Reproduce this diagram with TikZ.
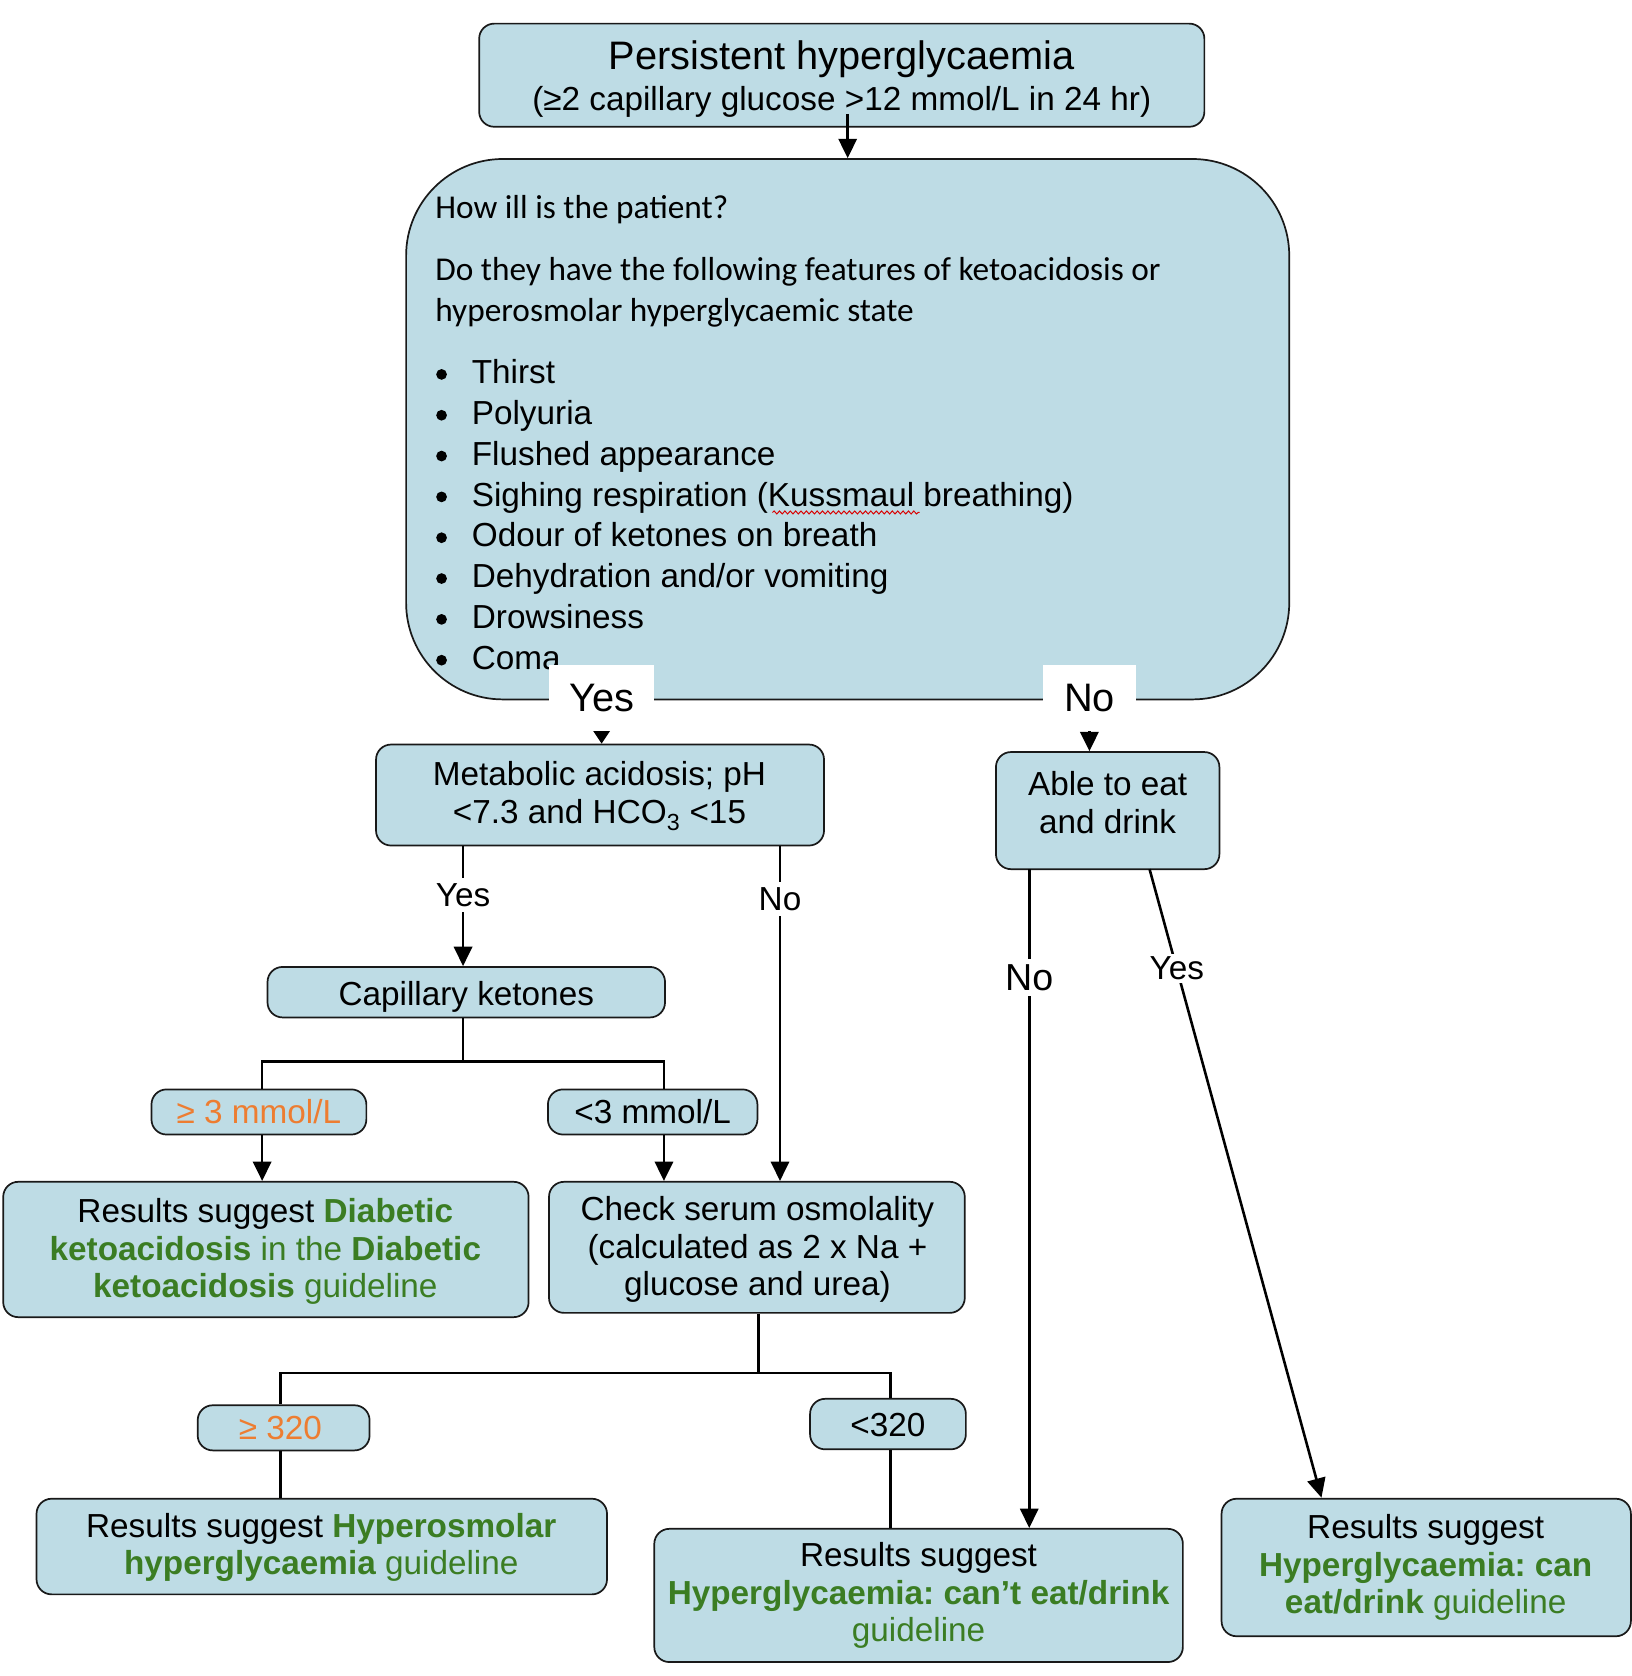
\documentclass[tikz,border=0pt]{standalone}
\usepackage{fontspec}
\setmainfont{Liberation Sans}
\newfontfamily\carlito{Carlito}
\usetikzlibrary{arrows.meta,decorations.pathmorphing}
\definecolor{boxfill}{HTML}{BEDCE5}
\definecolor{dgreen}{HTML}{3B7D23}
\definecolor{orng}{HTML}{ED7D31}
\newcommand\grb[1]{{\bfseries\color{dgreen}#1}}
\newcommand\grn[1]{{\color{dgreen}#1}}
\frenchspacing
\begin{document}
\begin{tikzpicture}[x=1pt,y=-1pt,
 box/.style={draw=black!90, line width=1.6pt, fill=boxfill, rounded corners=14pt, inner sep=0pt},
 txt/.style={align=center, font=\fontsize{31}{35}\selectfont, inner sep=0pt},
 lst/.style={font=\fontsize{31}{38}\selectfont, inner sep=0pt},
 dot/.style={circle, fill=black, inner sep=0pt, minimum size=10pt},
 conn/.style={line width=2.4pt},
 arr/.style={conn, -{Triangle[length=18pt,width=17pt]}},
 lbl/.style={fill=white, inner sep=5pt, font=\fontsize{31}{35}\selectfont},
 biglbl/.style={fill=white, inner sep=0pt, minimum height=61pt, font=\fontsize{37}{40}\selectfont}
]
\useasboundingbox (0,0) rectangle (1519,1560);

% boxes
\node[box, minimum width=675pt, minimum height=96pt] (top) at (783.5,70) {};
\node[txt] (toptxt) at (783.5,73.5) {{\fontsize{37}{40}\selectfont Persistent hyperglycaemia}\\[3pt](≥2 capillary glucose >12 mmol/L in 24 hr)};

\node[box, rounded corners=90pt, minimum width=822pt, minimum height=503pt] (big) at (789,399.5) {};
\node[anchor=base west, lst, font=\carlito\fontsize{31}{38}\selectfont] (q1) at (405,203) {How ill is the patient?};
\node[anchor=base west, lst, font=\carlito\fontsize{31}{38}\selectfont] (q2) at (405,261) {Do they have the following features of ketoacidosis or};
\node[anchor=base west, lst, font=\carlito\fontsize{31}{38}\selectfont] (q3) at (405,299) {hyperosmolar hyperglycaemic state};
\foreach \t [count=\i] in {Thirst, Polyuria, Flushed appearance, {Sighing respiration (Kussmaul breathing)}, Odour of ketones on breath, Dehydration and/or vomiting, Drowsiness, Coma}{
  \node[anchor=base west, lst] (b\i) at (439,{357+38*(\i-1)}) {\t};
  \node[dot] (d\i) at (411,{348.5+38*(\i-1)}) {};
}
\draw[red!85!black, line width=0.9pt, decorate, decoration={snake, amplitude=1.4pt, segment length=5pt}] (719,477) -- (856,477);

\node[box, minimum width=417pt, minimum height=94pt] (meta) at (558.5,740) {};
\node[txt] (metatxt) at (558,741) {Metabolic acidosis; pH\\<7.3 and HCO\textsubscript{3} <15};

\node[box, minimum width=208pt, minimum height=109pt] (able) at (1031,754.5) {};
\node[txt] (abletxt) at (1031,747) {Able to eat\\and drink};

% Yes / No exits of the big box
\coordinate (yesc) at (560,649.5);
\coordinate (noc) at (1014,649.5);
\draw[conn, -{Triangle[length=14pt,width=18pt]}] (yesc) -- (yesc |- meta.north);
\draw[arr] ([yshift=-8pt]noc) -- (noc |- able.north);
\node[biglbl, minimum width=98pt] (yes1) at (yesc) {Yes};
\node[biglbl, minimum width=86pt] (no1) at (noc) {No};

\node[box, minimum width=370pt, minimum height=47pt] (capk) at (434,923.5) {};
\node[txt] (capktxt) at (434,928) {Capillary ketones};

\node[box, minimum width=200pt, minimum height=42pt] (ge3) at (241,1035) {};
\node[txt, text=orng] (ge3txt) at (241,1035) {≥ 3 mmol/L};
\node[box, minimum width=195pt, minimum height=42pt] (lt3) at (607.5,1035) {};
\node[txt] (lt3txt) at (607.5,1035) {<3 mmol/L};

\node[box, minimum width=489pt, minimum height=126pt] (dka) at (247.5,1163) {};
\node[txt] (dkatxt) at (247,1165) {Results suggest \grb{Diabetic}\\\grb{ketoacidosis} \grn{in the} \grb{Diabetic}\\\grb{ketoacidosis} \grn{guideline}};

\node[box, minimum width=387pt, minimum height=122pt] (chk) at (704.5,1161) {};
\node[txt] (chktxt) at (705,1163) {Check serum osmolality\\(calculated as 2 x Na +\\glucose and urea)};

\node[box, minimum width=160pt, minimum height=42pt] (ge320) at (264,1329) {};
\node[txt, text=orng] (ge320txt) at (261,1329) {≥ 320};
\node[box, minimum width=145pt, minimum height=47pt] (lt320) at (826.5,1325.5) {};
\node[txt] (lt320txt) at (826.5,1326) {<320};

\node[box, minimum width=531pt, minimum height=89pt] (hhs) at (299.5,1439.5) {};
\node[txt] (hhstxt) at (299,1440.5) {Results suggest \grb{Hyperosmolar}\\\grb{hyperglycaemia} \grn{guideline}};

\node[box, minimum width=492pt, minimum height=124pt] (cant) at (855,1485) {};
\node[txt] (canttxt) at (855,1485) {Results suggest\\\grb{Hyperglycaemia: can’t eat/drink}\\\grn{guideline}};

\node[box, minimum width=381pt, minimum height=128pt] (can) at (1327.5,1459) {};
\node[txt] (cantxt) at (1327,1459) {Results suggest\\\grb{Hyperglycaemia: can}\\\grb{eat/drink} \grn{guideline}};

% connectors
\coordinate (topout) at (789,106);
\draw[arr] (topout) -- (topout |- big.north);

\coordinate (myes) at (431,787);
\coordinate (mno) at (726,787);
\draw[arr] (myes) -- node[lbl, pos=0.41] (lyes2) {Yes} (myes |- capk.north);
\draw[arr] (mno) -- node[lbl, pos=0.16] (lno2) {No} (mno |- chk.north);

\coordinate (cksplit) at (431,988);
\coordinate (ckl) at (244,988);
\coordinate (ckr) at (618,988);
\draw[conn] (capk.south -| cksplit) -- (cksplit);
\draw[conn, line cap=rect] (ckl) -- (ckr);
\draw[conn] (ckl) -- (ckl |- ge3.north);
\draw[conn] (ckr) -- (ckr |- lt3.north);
\draw[arr] (ge3.south -| ckl) -- (ckl |- dka.north);
\draw[arr] (lt3.south -| ckr) -- (ckr |- chk.north);

\coordinate (osplit) at (706,1278);
\coordinate (osl) at (261,1278);
\coordinate (osr) at (829,1278);
\draw[conn] (chk.south -| osplit) -- (osplit);
\draw[conn, line cap=rect] (osl) -- (osr);
\draw[conn] (osl) -- (osl |- ge320.north);
\draw[conn] (osr) -- (osr |- lt320.north);
\draw[conn] (ge320.south -| osl) -- (osl |- hhs.north);
\draw[conn] (lt320.south -| osr) -- (osr |- cant.north);

\coordinate (ano) at (958,809);
\coordinate (ayes) at (1070,809);
\coordinate (ayesend) at (1230,1394);
\draw[arr] (ano) -- node[lbl, pos=0.165, font=\fontsize{35}{38}\selectfont] (lno3) {No} (ano |- cant.north);
\draw[arr] (ayes) -- node[lbl, pos=0.158, inner sep=3pt] (lyes3) {Yes} (ayesend);
\end{tikzpicture}
\end{document}
